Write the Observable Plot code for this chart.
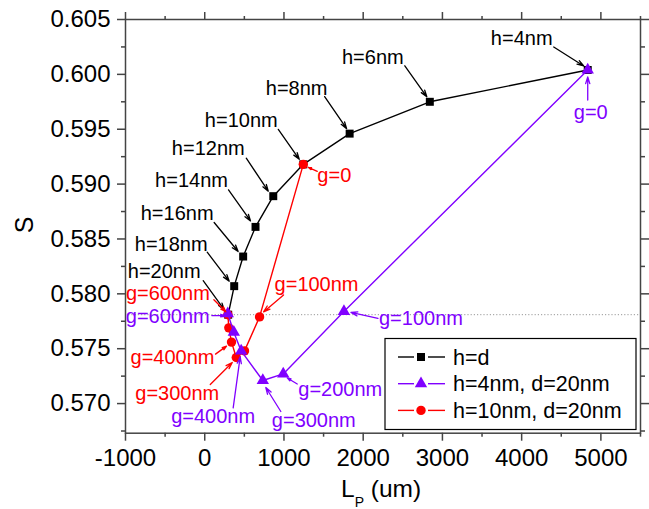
<!DOCTYPE html>
<html><head><meta charset="utf-8">
<script src="https://cdn.jsdelivr.net/npm/d3@7"></script>
<script src="https://cdn.jsdelivr.net/npm/@observablehq/plot@0.6"></script>
<style>body{margin:0;background:#fff} svg{display:block}</style>
</head><body><div id="chart"></div>
<script>
// ---- data ----
const seriesNames = ["h=d", "h=4nm, d=20nm", "h=10nm, d=20nm"];
const hLabels = ["h=4nm","h=6nm","h=8nm","h=10nm","h=12nm","h=14nm","h=16nm","h=18nm","h=20nm"];
const hdL = [4834, 2841, 1829, 1244, 865, 641, 485, 372, 296];
const hdS = [0.6004, 0.5975, 0.5946, 0.5918, 0.5889, 0.5861, 0.5834, 0.5807, 0.5781];
const gLabels = ["g=0","g=100nm","g=200nm","g=300nm","g=400nm","g=500nm","g=600nm"];
const h4L = [4834, 1757, 991, 733, 460, 367, 291];
const h4S = [0.6004, 0.5784, 0.5727, 0.5721, 0.5748, 0.5765, 0.5782];
const h10L = [1244, 692, 502, 398, 338, 304, 292];
const h10S = [0.5918, 0.5779, 0.5748, 0.5742, 0.5756, 0.5769, 0.5781];
const refS = 0.5781;
const xTicks = [-1000, 0, 1000, 2000, 3000, 4000, 5000];
const xMinor = [-500, 500, 1500, 2500, 3500, 4500, 5500];
const yTicks = [0.570, 0.575, 0.580, 0.585, 0.590, 0.595, 0.600, 0.605];
const yMinor = [0.5675, 0.5725, 0.5775, 0.5825, 0.5875, 0.5925, 0.5975, 0.6025];

// ---- layout ----
const W = 649, H = 509, ML = 125, MR = 9, MT = 19, MB = 76.3;
const xDom = [-1000, 5500], yDom = [0.5673, 0.605];
const kx = (xDom[1] - xDom[0]) / (W - ML - MR), ky = (yDom[1] - yDom[0]) / (H - MT - MB);
const FONT = "'Liberation Sans', Arial, Helvetica, sans-serif";
const PURPLE = "#8000ff", RED = "#ff0000", BLACK = "#000000";

const rows = (L, S, labels) => L.map((x, i) => ({L: x, S: S[i], label: labels[i]}));
const data = {hd: rows(hdL, hdS, hLabels), h4: rows(h4L, h4S, gLabels), h10: rows(h10L, h10S, gLabels)};
const colors = {hd: BLACK, h4: PURPLE, h10: RED};

// annotation offsets in pixels relative to marker: text centre t, arrow [x1,y1,x2,y2]
const notes = [
  {s:"hd", i:0, t:[-66,-31], a:[-34,-23,-4,-4]},
  {s:"hd", i:1, t:[-57,-44], a:[-25,-36,-3,-5]},
  {s:"hd", i:2, t:[-53,-45], a:[-25,-37,-3,-5]},
  {s:"hd", i:3, t:[-62,-44], a:[-25,-35,-4,-5]},
  {s:"hd", i:4, t:[-65,-48], a:[-27,-38,-5,-5]},
  {s:"hd", i:5, t:[-64,-46], a:[-27,-37,-5,-6]},
  {s:"hd", i:6, t:[-66,-43], a:[-29,-34,-5,-5]},
  {s:"hd", i:7, t:[-63,-42], a:[-27,-34,-5,-5]},
  {s:"hd", i:8, t:[-64,-43], a:[-25,-34,-4,-5]},
  {s:"h10", i:0, t:[31,11], a:[14,7,5,3]},
  {s:"h10", i:1, t:[57,-32], a:[24,-22,4,-5]},
  {s:"h10", i:3, t:[-59,36], a:[-26,27,-4,5]},
  {s:"h10", i:4, t:[-59,15], a:[-16,12,-5,4]},
  {s:"h10", i:6, t:[-60,-21], a:[-14,-15,-2,-3]},
  {s:"h4", i:0, t:[3,43], a:[0,30,0,7]},
  {s:"h4", i:1, t:[77,7], a:[34,7,7,1]},
  {s:"h4", i:2, t:[57,16], a:[14,10,4,4]},
  {s:"h4", i:3, t:[51,40], a:[18,31,3,7]},
  {s:"h4", i:4, t:[-28,66], a:[-8,57,-1,6]},
  {s:"h4", i:6, t:[-60,3], a:[-16,2,-3,2]}
];
const noteData = notes.map(n => {
  const p = data[n.s][n.i];
  return {
    s: n.s, text: p.label,
    tx: p.L + n.t[0]*kx, ty: p.S - n.t[1]*ky,
    x1: p.L + n.a[0]*kx, y1: p.S - n.a[1]*ky,
    x2: p.L + n.a[2]*kx, y2: p.S - n.a[3]*ky
  };
});

const axisStyle = {label: null, stroke: "#444", strokeWidth: 1.5, fill: "black", fontSize: 24};
const marks = [
  Plot.ruleY([refS], {stroke: "#999", strokeWidth: 1, strokeDasharray: "1.2,2"}),
  Plot.axisX({...axisStyle, ticks: xTicks, anchor: "bottom", tickSize: 8, tickPadding: 8, tickFormat: d => String(d)}),
  Plot.axisX({...axisStyle, ticks: xMinor, anchor: "bottom", tickSize: 4, tickFormat: () => ""}),
  Plot.axisX({...axisStyle, ticks: xTicks, anchor: "top", tickSize: 8, tickFormat: () => ""}),
  Plot.axisX({...axisStyle, ticks: xMinor, anchor: "top", tickSize: 4, tickFormat: () => ""}),
  Plot.axisY({...axisStyle, ticks: yTicks, anchor: "left", tickSize: 8, tickPadding: 7, tickFormat: d3.format(".3f")}),
  Plot.axisY({...axisStyle, ticks: yMinor, anchor: "left", tickSize: 4, tickFormat: () => ""}),
  Plot.axisY({...axisStyle, ticks: yTicks, anchor: "right", tickSize: 8, tickFormat: () => ""}),
  Plot.axisY({...axisStyle, ticks: yMinor, anchor: "right", tickSize: 4, tickFormat: () => ""}),
  Plot.frame({stroke: "#444", strokeWidth: 1.5})
];
const symbols = {hd: "square", h4: "triangle", h10: "circle"};
const radii = {hd: 4.5, h4: 4.6, h10: 4.7};
for (const s of ["hd", "h10", "h4"]) {
  marks.push(Plot.line(data[s], {x: "L", y: "S", stroke: colors[s], strokeWidth: 1.4}));
  marks.push(Plot.dot(data[s], {x: "L", y: "S", symbol: symbols[s], r: radii[s], fill: colors[s], stroke: "none"}));
}
for (const s of ["hd", "h10", "h4"]) {
  const nd = noteData.filter(d => d.s === s);
  marks.push(Plot.arrow(nd, {x1: "x1", y1: "y1", x2: "x2", y2: "y2", stroke: colors[s], strokeWidth: 1.3, headLength: 8, headAngle: 35}));
  marks.push(Plot.text(nd, {x: "tx", y: "ty", text: "text", fill: colors[s], fontSize: 20}));
}

const chart = Plot.plot({
  width: W, height: H, marginLeft: ML, marginRight: MR, marginTop: MT, marginBottom: MB,
  x: {domain: xDom}, y: {domain: yDom},
  style: {fontFamily: FONT, background: "white", color: "black", overflow: "visible"},
  marks
});
document.getElementById("chart").append(chart);

// axis titles and legend
const svg = d3.select(chart);
svg.append("text").attr("transform", "translate(33,225) rotate(-90)").attr("text-anchor", "middle")
  .attr("font-family", FONT).attr("font-size", 25).text("S");
const xt = svg.append("text").attr("x", 341).attr("y", 497).attr("text-anchor", "start")
  .attr("font-family", FONT).attr("font-size", 24.5);
xt.append("tspan").text("L");
xt.append("tspan").attr("font-size", 14).attr("dy", 10).text("P");
xt.append("tspan").attr("dy", -10).text(" (um)");

const leg = svg.append("g").attr("text-anchor", "start");
leg.append("rect").attr("x", 385).attr("y", 338.5).attr("width", 251).attr("height", 91)
  .attr("fill", "white").attr("stroke", "black").attr("stroke-width", 1.2);
const legOrder = [["hd", d3.symbolSquare, 4.5, 0], ["h4", d3.symbolTriangle, 4.6, 1], ["h10", d3.symbolCircle, 4.7, 2]];
legOrder.forEach(([s, sym, r, ni], k) => {
  const y = 357 + k * 26.7;
  for (const [a, b] of [[398, 414], [428, 445]]) {
    leg.append("line").attr("x1", a).attr("x2", b).attr("y1", y).attr("y2", y)
      .attr("stroke", colors[s]).attr("stroke-width", 1.4);
  }
  leg.append("path").attr("transform", `translate(421,${y})`)
    .attr("d", d3.symbol(sym, Math.PI * r * r)()).attr("fill", colors[s]);
  leg.append("text").attr("x", 453).attr("y", y).attr("dy", "0.35em").attr("text-anchor", "start")
    .attr("font-family", FONT).attr("font-size", 21.5).attr("fill", "black").text(seriesNames[ni]);
});
</script></body></html>
